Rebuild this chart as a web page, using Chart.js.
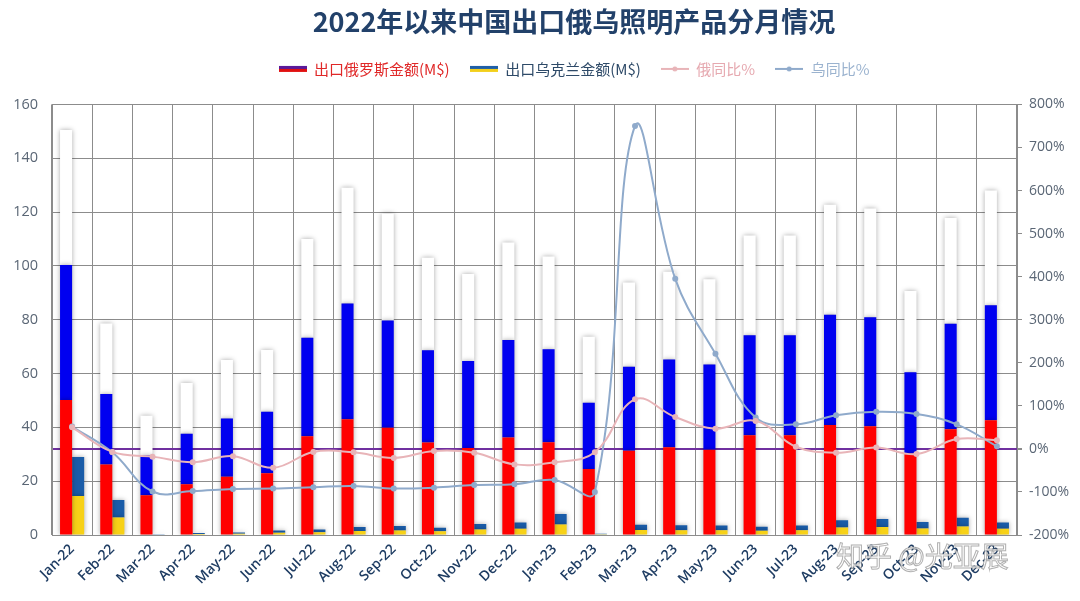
<!DOCTYPE html>
<html>
<head>
<meta charset="utf-8">
<script src="https://cdn.jsdelivr.net/npm/chart.js@4/dist/chart.umd.min.js"></script>
<style>
  html, body { margin: 0; padding: 0; background: #fff; }
  #wrap { width: 1080px; height: 601px; }
</style>
</head>
<body>
<div id="wrap"><canvas id="chart" width="1080" height="601"></canvas></div>
<script>
// Data
const months = ["Jan-22","Feb-22","Mar-22","Apr-22","May-22","Jun-22","Jul-22","Aug-22","Sep-22","Oct-22","Nov-22","Dec-22",
                "Jan-23","Feb-23","Mar-23","Apr-23","May-23","Jun-23","Jul-23","Aug-23","Sep-23","Oct-23","Nov-23","Dec-23"];
const russiaExport = [150.5, 78.6, 44.3, 56.5, 65, 68.7, 110, 129, 119.5, 103, 97, 108.7,
                      103.5, 73.7, 93.8, 97.8, 95, 111.3, 111.3, 122.7, 121.3, 90.7, 117.8, 128];
const ukraineExport = [29, 13, 0.3, 0.7, 0.9, 1.7, 2, 3, 3.3, 2.7, 4.1, 4.6,
                       7.8, 0.5, 3.8, 3.6, 3.5, 3.1, 3.5, 5.5, 5.9, 4.8, 6.4, 4.6];
const russiaYoY = [50, -7, -18, -31, -17, -44, -7, -8, -21, -5, -9, -36,
                   -31, -8, 115, 74, 47, 65, 5, -9, 3, -12, 23, 20];
const ukraineYoY = [52, -8, -99, -98, -93, -92, -89, -86, -92, -90, -84, -82,
                    -72, -100, 750, 395, 221, 73, 57, 78, 86, 81, 57, 6];
const amountTicks = [0, 20, 40, 60, 80, 100, 120, 140, 160];
const pctTicks = [-200, -100, 0, 100, 200, 300, 400, 500, 600, 700, 800];

const gridGray = "#8c8c8c";
const tickText = "#5a6675";

// flag-style bars: Russia as three equal bands, Ukraine as two
const third = russiaExport.map(v => v / 3);
const half = ukraineExport.map(v => v / 2);

// small legend icons
function icon(draw) {
  const c = document.createElement("canvas");
  c.width = 28; c.height = 8;
  draw(c.getContext("2d"));
  return c;
}
const ruIcon = icon(g => { g.fillStyle = "#5a1a9a"; g.fillRect(0, 1, 28, 3); g.fillStyle = "#e01010"; g.fillRect(0, 4, 28, 3); });
const uaIcon = icon(g => { g.fillStyle = "#1f5fa8"; g.fillRect(0, 1, 28, 3); g.fillStyle = "#f3cf1a"; g.fillRect(0, 4, 28, 3); });
const lineIcon = col => icon(g => {
  g.strokeStyle = col; g.lineWidth = 2; g.beginPath(); g.moveTo(0, 4); g.lineTo(28, 4); g.stroke();
  g.fillStyle = col; g.beginPath(); g.arc(14, 4, 2.5, 0, Math.PI * 2); g.fill();
});

const legendItems = [
  { text: "出口俄罗斯金额(M$)", color: "#e02828", style: ruIcon, idx: 0 },
  { text: "出口乌克兰金额(M$)", color: "#2e4a68", style: uaIcon, idx: 3 },
  { text: "俄同比%", color: "#e6a9b0", style: lineIcon("#e8b4b8"), idx: 5 },
  { text: "乌同比%", color: "#9bb3cf", style: lineIcon("#8faacb"), idx: 6 }
];

// extra room under the legend, and title + legend nudged right like the original
const headerTweak = {
  id: "headerTweak",
  beforeInit(chart) {
    const shift = box => {
      const draw = box.draw;
      box.draw = function () {
        const ctx = this.ctx;
        ctx.save();
        ctx.translate(34, 0);
        draw.apply(this, arguments);
        ctx.restore();
      };
    };
    const lg = chart.legend;
    if (lg) {
      const fit = lg.fit;
      lg.fit = function () { fit.call(this); this.height += 18; };
      shift(lg);
    }
    if (chart.titleBlock) shift(chart.titleBlock);
  }
};

const barShadow = {
  id: "barShadow",
  beforeDatasetDraw(chart, args) {
    if (chart.data.datasets[args.index].type === "line") return;
    const ctx = chart.ctx;
    ctx.save();
    ctx.shadowColor = "rgba(0,0,0,0.35)";
    ctx.shadowBlur = 5;
  },
  afterDatasetDraw(chart, args) {
    if (chart.data.datasets[args.index].type === "line") return;
    chart.ctx.restore();
  }
};

const watermark = {
  id: "watermark",
  afterDraw(chart) {
    const ctx = chart.ctx;
    ctx.save();
    ctx.font = '28px "Noto Sans CJK SC"';
    ctx.textBaseline = "middle";
    ctx.fillStyle = "rgba(255,255,255,0.75)";
    ctx.strokeStyle = "rgba(110,110,110,0.55)";
    ctx.lineWidth = 1;
    ctx.fillText("知乎 @光亚展", 836, 556);
    ctx.strokeText("知乎 @光亚展", 836, 556);
    ctx.restore();
  }
};

const bar = (data, color, stack) => ({
  type: "bar", data, backgroundColor: color, stack, order: 1,
  yAxisID: "y", categoryPercentage: 0.6, barPercentage: 1.0, borderWidth: 0
});
const line = (data, color) => ({
  type: "line", data, borderColor: color, backgroundColor: color, yAxisID: "y1", order: 0,
  borderWidth: 2, tension: 0.4, pointRadius: 2, pointHoverRadius: 2, fill: false
});

new Chart(document.getElementById("chart"), {
  type: "bar",
  data: {
    labels: months,
    datasets: [
      bar(third, "#ff0000", "ru"),
      bar(third, "#0000f0", "ru"),
      bar(third, "#ffffff", "ru"),
      bar(half, "#f7d117", "ua"),
      bar(half, "#1a5ca8", "ua"),
      line(russiaYoY, "#e8b4b8"),
      line(ukraineYoY, "#8faacb")
    ]
  },
  options: {
    responsive: false,
    animation: false,
    layout: { padding: { left: 0, right: 0, top: 0, bottom: 0 } },
    plugins: {
      tooltip: { enabled: false },
      title: {
        display: true,
        text: "2022年以来中国出口俄乌照明产品分月情况",
        color: "#22416a",
        font: { family: '"Noto Sans CJK SC"', size: 27, weight: "bold" },
        padding: { top: 6, bottom: 3 }
      },
      legend: {
        position: "top",
        labels: {
          usePointStyle: true,
          pointStyleWidth: 28,
          boxHeight: 8,
          padding: 20,
          font: { family: '"Noto Sans CJK SC"', size: 15 },
          generateLabels: () => legendItems.map(it => ({
            text: it.text, fontColor: it.color, pointStyle: it.style,
            datasetIndex: it.idx, hidden: false, lineWidth: 0,
            fillStyle: "rgba(0,0,0,0)", strokeStyle: "rgba(0,0,0,0)"
          }))
        },
        onClick: () => {}
      }
    },
    scales: {
      x: {
        stacked: true,
        offset: true,
        grid: { color: gridGray, lineWidth: 1, drawTicks: false, offset: true },
        border: { color: gridGray },
        ticks: {
          color: "#1f3d63", maxRotation: 45, minRotation: 45, padding: 6, autoSkip: false,
          font: { family: "Open Sans", size: 14, weight: "600" }
        },
        afterFit: s => { s.height = 66; }
      },
      y: {
        stacked: true,
        position: "left",
        min: amountTicks[0], max: amountTicks[amountTicks.length - 1],
        afterBuildTicks: s => { s.ticks = amountTicks.map(v => ({ value: v })); },
        grid: { color: gridGray, lineWidth: 1, drawTicks: false },
        border: { color: gridGray },
        ticks: { color: tickText, padding: 14, font: { family: "Open Sans", size: 14.5 } },
        afterFit: s => { s.width = 52; }
      },
      y1: {
        position: "right",
        min: pctTicks[0], max: pctTicks[pctTicks.length - 1],
        afterBuildTicks: s => { s.ticks = pctTicks.map(v => ({ value: v })); },
        grid: {
          drawOnChartArea: true,
          color: c => (c.tick && c.tick.value === 0) ? "#7030a0" : "rgba(0,0,0,0)",
          lineWidth: c => (c.tick && c.tick.value === 0) ? 2 : 1,
          tickColor: gridGray,
          tickLength: 5
        },
        border: { color: gridGray },
        ticks: {
          color: tickText, padding: 7, font: { family: "Open Sans", size: 14 },
          callback: v => v + "%"
        },
        afterFit: s => { s.width = 63; }
      }
    }
  },
  plugins: [headerTweak, barShadow, watermark]
});
</script>
</body>
</html>
